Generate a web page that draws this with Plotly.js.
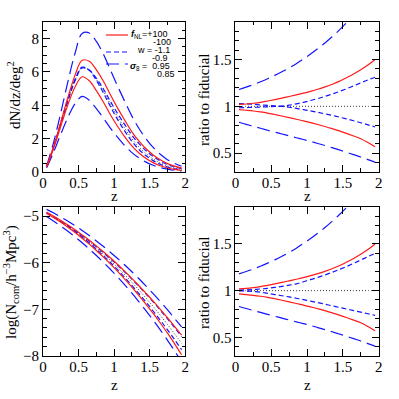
<!DOCTYPE html>
<html>
<head>
<meta charset="utf-8">
<script src="https://cdn.plot.ly/plotly-3.0.1.min.js"></script>
<style>
  html, body { margin: 0; padding: 0; background: #fff; }
  #chart { width: 399px; height: 399px; }
</style>
</head>
<body>
<div id="chart"></div>
<script>
// redshift grid shared by every curve
const z = [0.05,0.15,0.25,0.35,0.45,0.55,0.65,0.75,0.85,0.95,1.05,1.15,1.25,1.35,1.45,1.55,1.65,1.75,1.85,1.95];

// dN/dz/deg^2 (top left)
const dndzFid   = [0.30,1.50,2.90,4.30,5.50,6.25,6.10,5.55,4.85,4.05,3.30,2.62,2.00,1.50,1.10,0.78,0.54,0.36,0.24,0.15];
const dndzFnlP  = [0.31,1.54,3.00,4.48,5.81,6.70,6.64,6.13,5.44,4.62,3.83,3.10,2.41,1.85,1.39,1.02,0.73,0.50,0.35,0.23];
const dndzFnlM  = [0.29,1.44,2.76,4.04,5.10,5.71,5.47,4.88,4.18,3.42,2.73,2.11,1.57,1.14,0.81,0.56,0.37,0.24,0.15,0.09];
const dndzWA    = [0.30,1.48,2.87,4.27,5.47,6.24,6.11,5.62,4.98,4.22,3.50,2.84,2.21,1.70,1.27,0.93,0.66,0.45,0.31,0.20];
const dndzWB    = [0.31,1.54,2.96,4.37,5.56,6.29,6.10,5.49,4.74,3.91,3.14,2.45,1.84,1.35,0.97,0.68,0.46,0.30,0.19,0.12];
const dndzS8Hi  = [0.35,1.81,3.57,5.43,7.12,8.31,8.34,7.83,7.06,6.10,5.14,4.23,3.35,2.61,1.99,1.47,1.06,0.74,0.52,0.34];
const dndzS8Lo  = [0.25,1.21,2.28,3.29,4.10,4.53,4.30,3.80,3.23,2.62,2.07,1.58,1.16,0.84,0.59,0.40,0.26,0.17,0.10,0.06];

// ratios to fiducial (right panels)
const ratioFid  = [1,1,1,1,1,1,1,1,1,1,1,1,1,1,1,1,1,1,1,1];
const ratioFnlP = [1.020,1.025,1.033,1.043,1.057,1.072,1.088,1.105,1.122,1.140,1.160,1.182,1.207,1.235,1.266,1.305,1.345,1.390,1.440,1.500];
const ratioFnlM = [0.965,0.958,0.950,0.940,0.928,0.913,0.897,0.880,0.862,0.845,0.826,0.806,0.785,0.762,0.738,0.712,0.684,0.655,0.615,0.570];
const ratioS8Hi = [1.180,1.205,1.232,1.262,1.295,1.330,1.368,1.410,1.455,1.505,1.558,1.615,1.676,1.742,1.813,1.890,1.970,2.060,2.150,2.250];
const ratioS8Lo = [0.830,0.808,0.787,0.766,0.745,0.725,0.705,0.685,0.665,0.646,0.626,0.604,0.582,0.559,0.535,0.510,0.485,0.460,0.432,0.405];
// w changes dN/dz and N_com differently
const ratioWA   = [0.985,0.987,0.989,0.992,0.995,0.998,1.002,1.012,1.026,1.043,1.062,1.083,1.106,1.131,1.158,1.187,1.218,1.250,1.282,1.310];
const ratioWB   = [1.030,1.026,1.021,1.016,1.011,1.006,1.000,0.990,0.978,0.965,0.951,0.936,0.920,0.903,0.885,0.866,0.846,0.825,0.803,0.780];
const ratioWA2  = [1.005,1.008,1.012,1.018,1.025,1.034,1.045,1.058,1.073,1.095,1.118,1.142,1.168,1.196,1.226,1.258,1.292,1.328,1.364,1.400];
const ratioWB2  = [0.998,0.995,0.990,0.984,0.970,0.958,0.945,0.932,0.918,0.903,0.887,0.871,0.854,0.837,0.820,0.803,0.786,0.769,0.752,0.735];

// log(N_com / h^-3 Mpc^3) (bottom left)
const logFid   = [-4.930,-5.018,-5.112,-5.213,-5.320,-5.435,-5.555,-5.683,-5.817,-5.958,-6.104,-6.259,-6.419,-6.587,-6.761,-6.942,-7.129,-7.323,-7.524,-7.731];
const logFnlP  = [-4.921,-5.007,-5.098,-5.195,-5.296,-5.405,-5.518,-5.640,-5.767,-5.901,-6.040,-6.186,-6.337,-6.495,-6.659,-6.826,-7.000,-7.180,-7.366,-7.555];
const logFnlM  = [-4.946,-5.037,-5.134,-5.240,-5.353,-5.475,-5.602,-5.739,-5.882,-6.031,-6.187,-6.353,-6.524,-6.705,-6.893,-7.090,-7.294,-7.507,-7.735,-7.975];
const logWA    = [-4.928,-5.015,-5.107,-5.205,-5.309,-5.421,-5.536,-5.659,-5.786,-5.919,-6.056,-6.201,-6.352,-6.509,-6.673,-6.842,-7.018,-7.200,-7.389,-7.585];
const logWB    = [-4.931,-5.020,-5.116,-5.220,-5.333,-5.454,-5.580,-5.714,-5.854,-6.002,-6.156,-6.319,-6.488,-6.664,-6.847,-7.037,-7.234,-7.437,-7.648,-7.865];
const logS8Hi  = [-4.858,-4.937,-5.021,-5.112,-5.208,-5.311,-5.419,-5.534,-5.654,-5.781,-5.912,-6.051,-6.195,-6.346,-6.503,-6.666,-6.835,-7.009,-7.192,-7.379];
const logS8Lo  = [-5.011,-5.111,-5.216,-5.329,-5.448,-5.575,-5.707,-5.847,-5.994,-6.148,-6.307,-6.478,-6.654,-6.840,-7.033,-7.234,-7.443,-7.660,-7.889,-8.124];

const RED = "#ff1a1a", BLUE = "#1414ff";
const SOLID = { color: RED, width: 1.2, dash: "solid" };
const SHORT = { color: BLUE, width: 1.2, dash: "5px,3px" };
const LONG  = { color: BLUE, width: 1.2, dash: "13px,6px" };
const DOT   = { color: "#333", width: 1, dash: "1px,2px" };

function curve(y, line, xa, ya){
  return { x: z, y, xaxis: xa, yaxis: ya, type: "scatter", mode: "lines",
           line: Object.assign({ shape: "spline" }, line), showlegend: false, hoverinfo: "skip" };
}

function panel(xa, ya, set){
  return [
    curve(set.fid, DOT, xa, ya),
    curve(set.s8hi, LONG, xa, ya), curve(set.s8lo, LONG, xa, ya),
    curve(set.wa, SHORT, xa, ya), curve(set.wb, SHORT, xa, ya),
    curve(set.fp, SOLID, xa, ya), curve(set.fm, SOLID, xa, ya)
  ];
}

const traces = [].concat(
  panel("x", "y",   { fid: dndzFid, s8hi: dndzS8Hi, s8lo: dndzS8Lo, wa: dndzWA, wb: dndzWB, fp: dndzFnlP, fm: dndzFnlM }),
  panel("x2", "y2", { fid: ratioFid, s8hi: ratioS8Hi, s8lo: ratioS8Lo, wa: ratioWA, wb: ratioWB, fp: ratioFnlP, fm: ratioFnlM }),
  panel("x3", "y3", { fid: logFid, s8hi: logS8Hi, s8lo: logS8Lo, wa: logWA, wb: logWB, fp: logFnlP, fm: logFnlM }),
  panel("x4", "y4", { fid: ratioFid, s8hi: ratioS8Hi, s8lo: ratioS8Lo, wa: ratioWA2, wb: ratioWB2, fp: ratioFnlP, fm: ratioFnlM })
);

const FONT = "Liberation Serif, serif";
function ax(domain, range, dtick, minor, anchor, extra){
  return Object.assign({
    domain, range, dtick, tick0: 0, anchor,
    showline: true, mirror: "allticks", linecolor: "#000", linewidth: 1,
    ticks: "inside", ticklen: 7, tickwidth: 1, tickcolor: "#000",
    minor: { dtick: minor, tick0: 0, ticks: "inside", ticklen: 3.5, tickcolor: "#000", tickwidth: 1 },
    showgrid: false, zeroline: false,
    tickfont: { family: FONT, size: 15, color: "#000" }
  }, extra || {});
}
const XT = { ticklabelstandoff: -3 };

const XL = [0.108, 0.464], XR = [0.590, 0.949];
const YT = [0.569, 0.945], YB = [0.108, 0.482];

// axis titles placed as annotations so they sit where the original puts them
const titles = [
  { text: "z", x: 114, y: 196 },
  { text: "z", x: 307, y: 196 },
  { text: "z", x: 114, y: 385 },
  { text: "z", x: 307, y: 385 },
  { text: "dN/dz/deg<sup>2</sup>", x: 14, y: 95, textangle: -90 },
  { text: "ratio to fiducial", x: 204, y: 100, textangle: -90 },
  { text: "log(N<sub>com</sub>/h<sup>−3</sup>Mpc<sup>3</sup>)", x: 11, y: 282, textangle: -90 },
  { text: "ratio to fiducial", x: 204, y: 283, textangle: -90 }
].map(t => ({ text: t.text, x: t.x/399, y: 1 - t.y/399, textangle: t.textangle || 0,
              xref: "paper", yref: "paper", xanchor: "center", yanchor: "middle", showarrow: false,
              font: { family: FONT, size: 15, color: "#000" } }));

const legendText = [
  { text: "<b><i>f</i></b><sub>NL</sub>=+100", x: 130, y: 34 },
  { text: "-100", x: 152, y: 42 },
  { text: "w = -1.1", x: 136, y: 50 },
  { text: "-0.9", x: 151, y: 58 },
  { text: "<b><i>σ</i></b><sub>8</sub> =  0.95", x: 129, y: 66 },
  { text: "0.85", x: 156, y: 74 }
].map(a => ({ text: a.text, x: a.x/399, y: 1 - a.y/399, borderpad: 0,
              xref: "paper", yref: "paper", xanchor: "left", yanchor: "middle", showarrow: false,
              font: { family: "Liberation Sans, sans-serif", size: 9, color: "#000" } }));

function sample(y, line){
  return { type: "line", xref: "paper", yref: "paper", x0: 106/399, x1: 128/399, y0: 1 - y/399, y1: 1 - y/399, line };
}

const layout = {
  width: 399, height: 399,
  margin: { l: 0, r: 0, t: 0, b: 0 },
  paper_bgcolor: "#fff", plot_bgcolor: "#fff",
  xaxis:  ax(XL, [0, 2], 0.5, 0.25, "y", XT),
  yaxis:  ax(YT, [0, 9], 2, 0.5, "x"),
  xaxis2: ax(XR, [0, 2], 0.5, 0.25, "y2", XT),
  yaxis2: ax(YT, [0.3, 1.9], 0.5, 0.1, "x2"),
  xaxis3: ax(XL, [0, 2], 0.5, 0.25, "y3", XT),
  yaxis3: ax(YB, [-8, -4.8], 1, 0.2, "x3", { tick0: -8 }),
  xaxis4: ax(XR, [0, 2], 0.5, 0.25, "y4", XT),
  yaxis4: ax(YB, [0.3, 1.9], 0.5, 0.1, "x4"),
  shapes: [
    sample(35, { color: RED, width: 1.2 }),
    sample(52, { color: BLUE, width: 1.2, dash: "5px,3px" }),
    sample(64, { color: BLUE, width: 1.2, dash: "13px,6px" })
  ],
  annotations: titles.concat(legendText)
};

Plotly.newPlot("chart", traces, layout, { displayModeBar: false, staticPlot: true });
</script>
</body>
</html>
